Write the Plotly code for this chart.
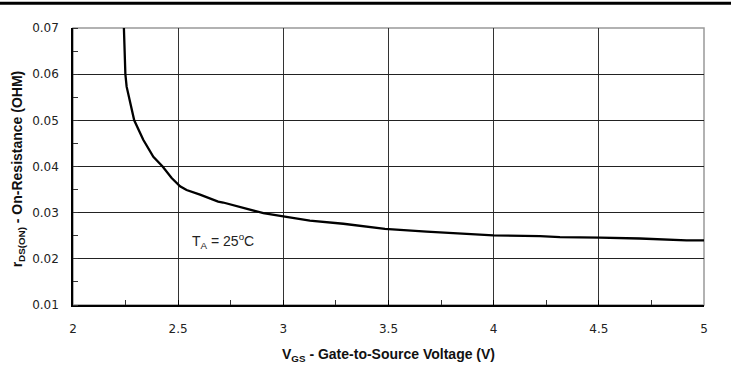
import plotly.graph_objects as go

vgs = [2.242, 2.249, 2.255, 2.271, 2.291, 2.334, 2.382, 2.426, 2.469, 2.509, 2.54,
       2.604, 2.69, 2.714, 2.81, 2.905, 3.0, 3.126, 3.285, 3.41, 3.483, 3.681,
       3.998, 4.22, 4.315, 4.505, 4.695, 4.917, 5.0]
rds = [0.070, 0.060, 0.0573, 0.0537, 0.050, 0.0458, 0.0421, 0.040, 0.0375, 0.0357, 0.0349,
       0.0339, 0.0324, 0.0322, 0.031, 0.0299, 0.0292, 0.0283, 0.0276, 0.027, 0.0265, 0.0259,
       0.0251, 0.0249, 0.0247, 0.0246, 0.0244, 0.0240, 0.0240]

x_ticks = [2, 2.5, 3, 3.5, 4, 4.5, 5]
x_labels = ["2", "2.5", "3", "3.5", "4", "4.5", "5"]
y_ticks = [0.01, 0.02, 0.03, 0.04, 0.05, 0.06, 0.07]
y_labels = ["0.01", "0.02", "0.03", "0.04", "0.05", "0.06", "0.07"]

tick_font = dict(family="DejaVu Sans, Liberation Sans, Arial", size=12, color="#222")
title_font = dict(family="Liberation Sans Narrow, Liberation Sans, Arial", size=14, color="#111")

fig = go.Figure()
fig.add_trace(go.Scatter(x=vgs, y=rds, mode="lines",
                         line=dict(color="black", width=2.3), showlegend=False))

fig.update_layout(
    width=731, height=383,
    margin=dict(l=73, r=27, t=28, b=78),
    paper_bgcolor="white", plot_bgcolor="white",
    xaxis=dict(range=[2, 5], tickvals=x_ticks, ticktext=x_labels,
               showgrid=True, gridcolor="#333", gridwidth=1,
               showline=True, linecolor="black", linewidth=1.5,
               ticks="inside", ticklen=5, tickcolor="black",
               minor=dict(dtick=0.25, ticks="inside", ticklen=5, tickcolor="#333", showgrid=False),
               tickfont=tick_font, zeroline=False, ticklabelstandoff=12),
    yaxis=dict(range=[0.01, 0.07], tickvals=y_ticks, ticktext=y_labels,
               showgrid=True, gridcolor="#222", gridwidth=1,
               showline=True, linecolor="black", linewidth=1.5,
               ticks="", minor=dict(dtick=0.005, tick0=0.005, ticks="inside", ticklen=5,
                                    tickcolor="#333", showgrid=False),
               tickfont=tick_font, zeroline=False, ticklabelstandoff=10),
    shapes=[
        dict(type="rect", xref="paper", yref="paper", x0=0, x1=1, y0=0, y1=1,
             line=dict(color="#999", width=1.5), layer="below"),
        dict(type="line", xref="paper", yref="paper", x0=-0.2, x1=1.2, y0=1.0895, y1=1.0895,
             line=dict(color="black", width=3)),
    ],
    annotations=[
        dict(text="<b>r<sub>DS(ON)</sub> - On-Resistance (OHM)</b>", xref="paper", yref="paper",
             x=-0.087, y=0.49, textangle=-90, showarrow=False, font=title_font,
             xanchor="center", yanchor="middle"),
        dict(text="<b>V<sub>GS</sub> - Gate-to-Source Voltage (V)</b>", xref="paper", yref="paper",
             x=0.5, y=-0.18, showarrow=False, font=title_font,
             xanchor="center", yanchor="middle"),
        dict(text="T<sub>A</sub> = 25<sup>o</sup>C", xref="x", yref="y",
             x=2.556, y=0.0239, showarrow=False, xanchor="left", yanchor="middle",
             font=dict(family="Liberation Sans, Arial", size=14, color="#222")),
    ],
)
fig.write_html("out.html", config={"displayModeBar": False},
               post_script="document.body.style.margin='0';")
